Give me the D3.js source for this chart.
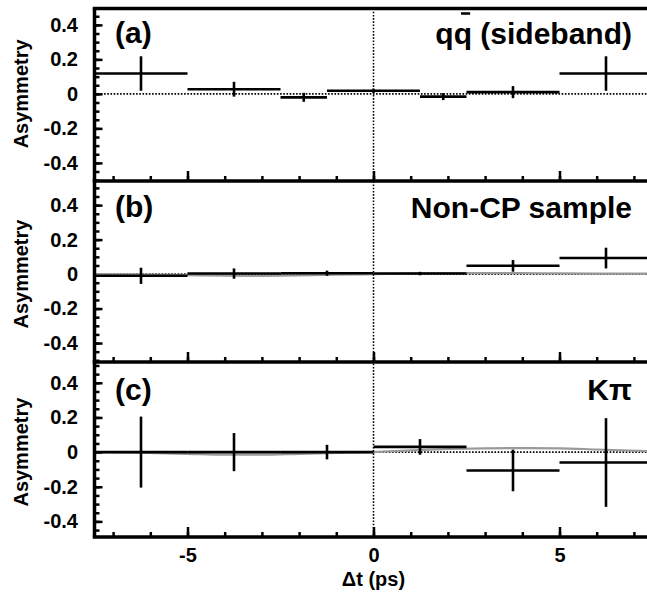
<!DOCTYPE html>
<html>
<head>
<meta charset="utf-8">
<script src="https://cdn.jsdelivr.net/npm/d3@7"></script>
<style>
  body { margin: 0; background: #fff; }
  svg  { display: block; font-family: "Liberation Sans", Arial, Helvetica, sans-serif; font-weight: bold; }
</style>
</head>
<body>
<div id="chart"></div>
<script>
// ---- data ----
// panel (a): qq-bar sideband
const edgesA = [-7.5, -5, -2.5, -1.25, 1.25, 2.5, 5, 7.5];
const asymA  = [0.118, 0.027, -0.02, 0.018, -0.016, 0.01, 0.118];
const errA   = [0.10, 0.043, 0.026, 0.012, 0.02, 0.035, 0.10];

// panels (b) and (c) share the same binning
const edgesBC = [-7.5, -5, -2.5, 0, 2.5, 5, 7.5];
const asymB   = [-0.01, 0.003, 0.005, 0.003, 0.048, 0.093];
const errB    = [0.047, 0.03, 0.015, 0.01, 0.034, 0.06];
const asymC   = [0.0, 0.0, 0.0, 0.03, -0.106, -0.06];
const errC    = [0.205, 0.11, 0.042, 0.045, 0.12, 0.256];

// fit curves (grey), sampled by eye
const fitT = [-7.5, -6, -5, -4, -3, -2, -1, 0, 1, 2, 3, 4, 5, 6, 7.5];
const fitB = [0.0, -0.003, -0.006, -0.009, -0.01, -0.008, -0.004, 0.0, 0.004, 0.006, 0.006, 0.005, 0.004, 0.003, 0.002];
const fitC = [0.0, -0.005, -0.01, -0.015, -0.015, -0.01, -0.005, 0.0, 0.01, 0.018, 0.022, 0.023, 0.022, 0.015, 0.005];

const yTickLabels = [-0.4, -0.2, 0, 0.2, 0.4];
const xTickLabels = [-5, 0, 5];
const panelTags   = ['(a)', '(b)', '(c)'];
const panelTitles = ['qq (sideband)', 'Non-CP sample', 'K\u03C0'];

// ---- layout ----
const width  = 647;
const height = 595;
const lineW  = 3.5;

const panels = [
  {top: 8.5, bottom: 181, domain: [-0.505, 0.495], edges: edgesA,  asym: asymA, err: errA, fit: null},
  {top: 181, bottom: 362, domain: [-0.51, 0.54],   edges: edgesBC, asym: asymB, err: errB, fit: fitB},
  {top: 362, bottom: 537, domain: [-0.49, 0.52],   edges: edgesBC, asym: asymC, err: errC, fit: fitC}
];

const svg = d3.select('#chart')
  .append('svg')
  .attr('width',  width)
  .attr('height', height);

let xScale = d3.scaleLinear()
  .domain([-7.5, 7.5])
  .range([94.5, 652.5]);

const x0 = xScale.range()[0];
const x1 = xScale.range()[1];

panels.forEach((p, i) => {
  let yScale = d3.scaleLinear()
    .domain(p.domain)
    .range([p.bottom, p.top]);

  let g = svg.append('g').attr('class', 'panel');

  // minor y ticks every 0.05
  let minorY = d3.range(-10, 11).map(k => k * 0.05).filter(v => v > p.domain[0] && v < p.domain[1]);
  g.append('g')
    .attr('transform', `translate(${x0}, 0)`)
    .call(d3.axisRight(yScale).tickValues(minorY).tickSize(5).tickFormat(''))
    .call(a => a.select('.domain').remove())
    .selectAll('line').attr('stroke-width', 2.5);

  // major y ticks + labels
  g.append('g')
    .attr('transform', `translate(${x0}, 0)`)
    .call(d3.axisRight(yScale).tickValues(yTickLabels).tickSize(8).tickFormat(''))
    .call(a => a.select('.domain').remove())
    .selectAll('line').attr('stroke-width', 2.5);

  g.append('g')
    .attr('transform', `translate(${x0}, 0)`)
    .call(d3.axisLeft(yScale).tickValues(yTickLabels).tickSize(0).tickPadding(16.5)
      .tickFormat(d => d === 0 ? '0' : String(d)))
    .call(a => a.select('.domain').remove())
    .selectAll('text')
    .style('font-size', '20px')
    .style('font-family', '"Liberation Sans", Arial, sans-serif')
    .style('font-weight', 'bold')
    .attr('fill', '#000');

  // x ticks along the bottom edge of each panel
  g.append('g')
    .attr('transform', `translate(0, ${p.bottom})`)
    .call(d3.axisTop(xScale).tickValues(d3.range(-7, 8)).tickSize(5).tickFormat(''))
    .call(a => a.select('.domain').remove())
    .selectAll('line').attr('stroke-width', 2.5);

  g.append('g')
    .attr('transform', `translate(0, ${p.bottom})`)
    .call(d3.axisTop(xScale).tickValues(xTickLabels).tickSize(10).tickFormat(''))
    .call(a => a.select('.domain').remove())
    .selectAll('line').attr('stroke-width', 2.5);

  // dotted zero line
  g.append('line')
    .attr('x1', x0).attr('x2', x1)
    .attr('y1', yScale(0)).attr('y2', yScale(0))
    .attr('stroke', '#000')
    .attr('stroke-width', 1.6)
    .attr('stroke-dasharray', '1.6,1.6');

  // fit curve
  if (p.fit) {
    let line = d3.line()
      .x((d, k) => xScale(fitT[k]))
      .y(d => yScale(d))
      .curve(d3.curveMonotoneX);
    g.append('path')
      .datum(p.fit)
      .attr('d', line)
      .attr('fill', 'none')
      .attr('stroke', '#9a9a9a')
      .attr('stroke-width', 2.2);
  }

  // binned asymmetry points
  let bins = p.asym.map((v, k) => ({lo: p.edges[k], hi: p.edges[k + 1], v: v, e: p.err[k]}));

  let pts = g.selectAll('.pt')
    .data(bins)
    .enter()
    .append('g')
    .attr('class', 'pt');

  pts.append('line')
    .attr('x1', d => xScale(d.lo))
    .attr('x2', d => xScale(d.hi))
    .attr('y1', d => yScale(d.v))
    .attr('y2', d => yScale(d.v))
    .attr('stroke', '#000')
    .attr('stroke-width', 2.6);

  pts.append('line')
    .attr('x1', d => xScale((d.lo + d.hi) / 2))
    .attr('x2', d => xScale((d.lo + d.hi) / 2))
    .attr('y1', d => yScale(d.v - d.e))
    .attr('y2', d => yScale(d.v + d.e))
    .attr('stroke', '#000')
    .attr('stroke-width', 2.6);

  // frame: bottom edge of the panel
  g.append('line')
    .attr('x1', x0 - lineW / 2).attr('x2', x1)
    .attr('y1', p.bottom).attr('y2', p.bottom)
    .attr('stroke', '#000')
    .attr('stroke-width', lineW);

  // y label
  g.append('text')
    .attr('transform', `translate(28, ${yScale(0)}) rotate(-90)`)
    .attr('text-anchor', 'middle')
    .style('font-size', '20px')
    .text('Asymmetry');

  // panel tag and title
  g.append('text')
    .attr('x', 115)
    .attr('y', [43, 217, 400][i])
    .style('font-size', '30px')
    .text(panelTags[i]);

  let title = g.append('text')
    .attr('x', 632)
    .attr('y', [44, 218, 400][i])
    .attr('text-anchor', 'end')
    .style('font-size', '30px')
    .text(panelTitles[i]);

  // bar over the second q of "qq"
  if (i === 0) {
    let ext = title.node().getExtentOfChar(1);
    g.append('line')
      .attr('x1', ext.x + ext.width * 0.4)
      .attr('x2', ext.x + ext.width * 0.9)
      .attr('y1', 13.5).attr('y2', 13.5)
      .attr('stroke', '#000')
      .attr('stroke-width', 2.5);
  }
});

// top edge and left edge of the frame
svg.append('line')
  .attr('x1', x0 - lineW / 2).attr('x2', x1)
  .attr('y1', panels[0].top).attr('y2', panels[0].top)
  .attr('stroke', '#000')
  .attr('stroke-width', lineW);

svg.append('line')
  .attr('x1', x0).attr('x2', x0)
  .attr('y1', panels[0].top).attr('y2', panels[2].bottom)
  .attr('stroke', '#000')
  .attr('stroke-width', lineW);

// dotted vertical line at dt = 0
svg.append('line')
  .attr('x1', xScale(0)).attr('x2', xScale(0))
  .attr('y1', panels[0].top).attr('y2', panels[2].bottom)
  .attr('stroke', '#000')
  .attr('stroke-width', 1.6)
  .attr('stroke-dasharray', '1.6,1.6');

// x axis labels at the bottom
svg.append('g')
  .attr('transform', `translate(0, ${panels[2].bottom})`)
  .call(d3.axisBottom(xScale).tickValues(xTickLabels).tickSize(0).tickPadding(11)
    .tickFormat(d => String(d)))
  .call(a => a.select('.domain').remove())
  .selectAll('text')
  .style('font-size', '20px')
  .style('font-family', '"Liberation Sans", Arial, sans-serif')
  .style('font-weight', 'bold')
  .attr('fill', '#000');

svg.append('text')
  .attr('x', xScale(0))
  .attr('y', 586)
  .attr('text-anchor', 'middle')
  .style('font-size', '20px')
  .text('\u0394t (ps)');
</script>
</body>
</html>
